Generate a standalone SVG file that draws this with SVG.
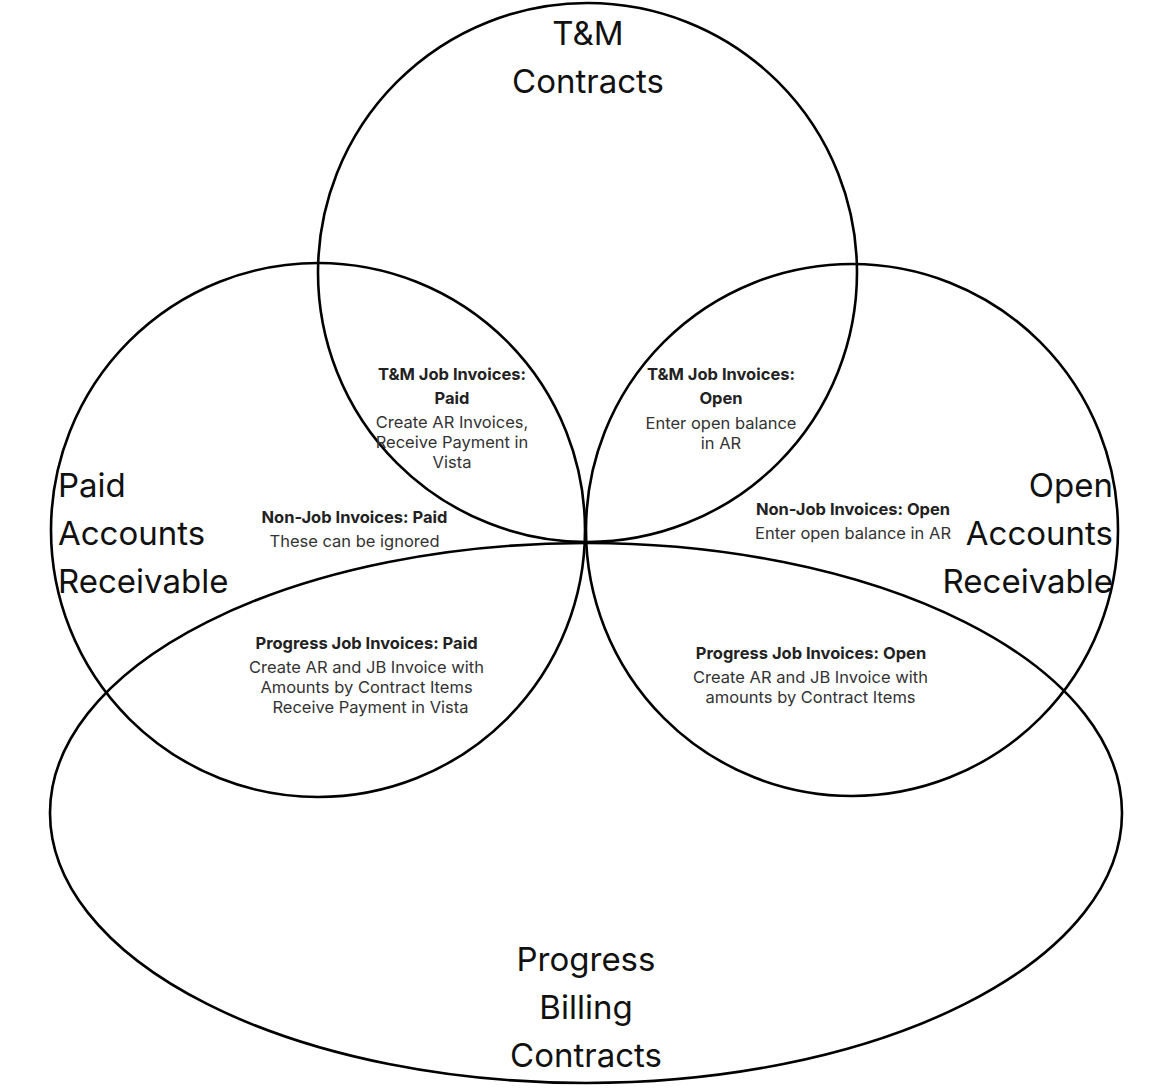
<svg xmlns="http://www.w3.org/2000/svg" width="1174" height="1091" viewBox="0 0 1174 1091">
<style>
.c{fill:none;stroke:#000;stroke-width:2.6}
.big{font-family:Inter,"Liberation Sans",sans-serif;font-size:33px;fill:#111}
.b{font-family:Inter,"Liberation Sans",sans-serif;font-size:16.5px;font-weight:bold;fill:#222;text-anchor:middle}
.r{font-family:Inter,"Liberation Sans",sans-serif;font-size:16.5px;fill:#333;text-anchor:middle}
</style>
<rect width="1174" height="1091" fill="#fff"/>
<g id="connectors"></g>
<g id="tm-contracts">
<circle class="c" cx="587.5" cy="272.5" r="269.5"/>
<text class="big" x="588" y="45" text-anchor="middle">T&amp;M</text>
<text class="big" x="588" y="93" text-anchor="middle">Contracts</text>
</g>
<g id="paid-ar">
<circle class="c" cx="318" cy="530" r="267"/>
<text class="big" x="58" y="497">Paid</text>
<text class="big" x="58" y="545">Accounts</text>
<text class="big" x="58" y="593">Receivable</text>
</g>
<g id="open-ar">
<circle class="c" cx="852" cy="530" r="266"/>
<text class="big" x="1113" y="497" text-anchor="end">Open</text>
<text class="big" x="1113" y="545" text-anchor="end">Accounts</text>
<text class="big" x="1113" y="593" text-anchor="end">Receivable</text>
</g>
<g id="progress-billing">
<ellipse class="c" cx="586" cy="813" rx="536" ry="270"/>
<text class="big" x="586" y="971" text-anchor="middle">Progress</text>
<text class="big" x="586" y="1019" text-anchor="middle">Billing</text>
<text class="big" x="586" y="1067" text-anchor="middle">Contracts</text>
</g>
<g id="tm-paid">
<text class="b" x="452" y="380">T&amp;M Job Invoices:</text>
<text class="b" x="452" y="404">Paid</text>
<text class="r" x="452" y="428">Create AR Invoices,</text>
<text class="r" x="452" y="448">Receive Payment in</text>
<text class="r" x="452" y="468">Vista</text>
</g>
<g id="tm-open">
<text class="b" x="721" y="380">T&amp;M Job Invoices:</text>
<text class="b" x="721" y="404">Open</text>
<text class="r" x="721" y="429">Enter open balance</text>
<text class="r" x="721" y="449">in AR</text>
</g>
<g id="nonjob-paid">
<text class="b" x="354.5" y="523">Non-Job Invoices: Paid</text>
<text class="r" x="354.5" y="547">These can be ignored</text>
</g>
<g id="nonjob-open">
<text class="b" x="853" y="515">Non-Job Invoices: Open</text>
<text class="r" x="853" y="539">Enter open balance in AR</text>
</g>
<g id="progress-paid">
<text class="b" x="366.5" y="649">Progress Job Invoices: Paid</text>
<text class="r" x="366.5" y="673">Create AR and JB Invoice with</text>
<text class="r" x="366.5" y="693">Amounts by Contract Items</text>
<text class="r" x="370.5" y="713">Receive Payment in Vista</text>
</g>
<g id="progress-open">
<text class="b" x="811" y="659">Progress Job Invoices: Open</text>
<text class="r" x="810.5" y="683">Create AR and JB Invoice with</text>
<text class="r" x="810.5" y="703">amounts by Contract Items</text>
</g>
</svg>
